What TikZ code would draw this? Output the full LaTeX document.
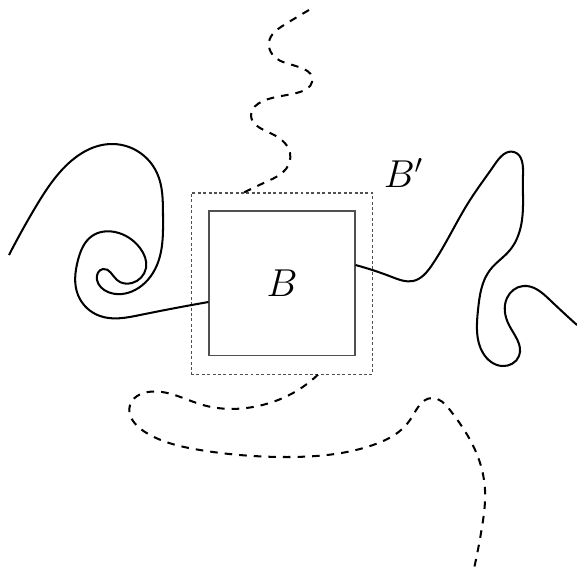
\documentclass[tikz,border=0pt]{standalone}
\usetikzlibrary{positioning,calc,hobby}
\definecolor{Frame}{HTML}{505050}
\definecolor{Ink}{HTML}{000000}
\tikzset{
  innerbox/.style={draw=Frame,line width=0.4pt,minimum width=54pt,minimum height=53.3pt,inner sep=0pt},
  outerbox/.style={draw=Frame,line width=0.4pt,dash pattern=on 1.1pt off 0.9pt,minimum width=67.3pt,minimum height=67pt,inner sep=0pt},
  solidpath/.style={draw=Ink,line width=0.75pt,use Hobby shortcut},
  dashpath/.style={draw=Ink,line width=0.75pt,dash pattern=on 2.8pt off 2.6pt,use Hobby shortcut},
  boxlabel/.style={font=\Large}
}
\begin{document}
\begin{tikzpicture}[x=0.37pt,y=-0.37pt]
  \useasboundingbox (0,0) rectangle (577,573);
  \node[innerbox] (B) at (282,283) {};
  \node[outerbox] (Bp) at (282,283.5) {};
  \node[boxlabel] (Blabel) at (B.center) {$B$};
  \node[boxlabel,above right=1.6pt and 3.6pt of Bp.north east,inner sep=0pt] (Bplabel) {$B'$};
  % end points on the frames
  \coordinate (leftend) at ($(B.west)+(0,19)$);
  \coordinate (rightend) at ($(B.east)+(0,-18)$);
  \coordinate (topend) at ($(Bp.north)+(-38,0)$);
  \coordinate (bottomend) at ($(Bp.south)+(36,0)$);
  % solid curves
  \draw[solidpath] (9,255) .. (35,208) .. (60,172) .. (113,144) .. (157,173) .. (163,215)
    .. (157,265) .. (135,290) .. (108,292) .. (97,280) .. (103,269) .. (117,280)
    .. (132,283) .. (146,268) .. (140,248) .. (115,232) .. (92,236) .. (78,260)
    .. (78,295) .. (100,316) .. (140,315) .. (leftend);
  \draw[solidpath] (rightend) .. (392,277) .. (413,281) .. (432,265) .. (470,200)
    .. (495,164) .. (514,152) .. (523,175) .. (522,220) .. (510,250) .. (490,270)
    .. (478,310) .. (483,353) .. (502,366) .. (519,356) .. (509,325) .. (507,298)
    .. (523,286) .. (550,300) .. (577,325);
  % dashed curves
  \draw[dashpath] (309,10) .. (284,25) .. (269,42) .. (283,62) .. (312,82)
    .. (300,92) .. (263,101) .. (251,115) .. (268,132) .. (290,153) .. (286,169)
    .. (268,181) .. (topend);
  \draw[dashpath] (bottomend) .. (293,393) .. (253,407) .. (203,405) .. (148,392)
    .. (130,405) .. (145,432) .. (200,450) .. (287,457) .. (373,445) .. (410,420)
    .. (432,398) .. (450,410) .. (478,457) .. (485,490) .. (482,527) .. (473,573);
\end{tikzpicture}
\end{document}
